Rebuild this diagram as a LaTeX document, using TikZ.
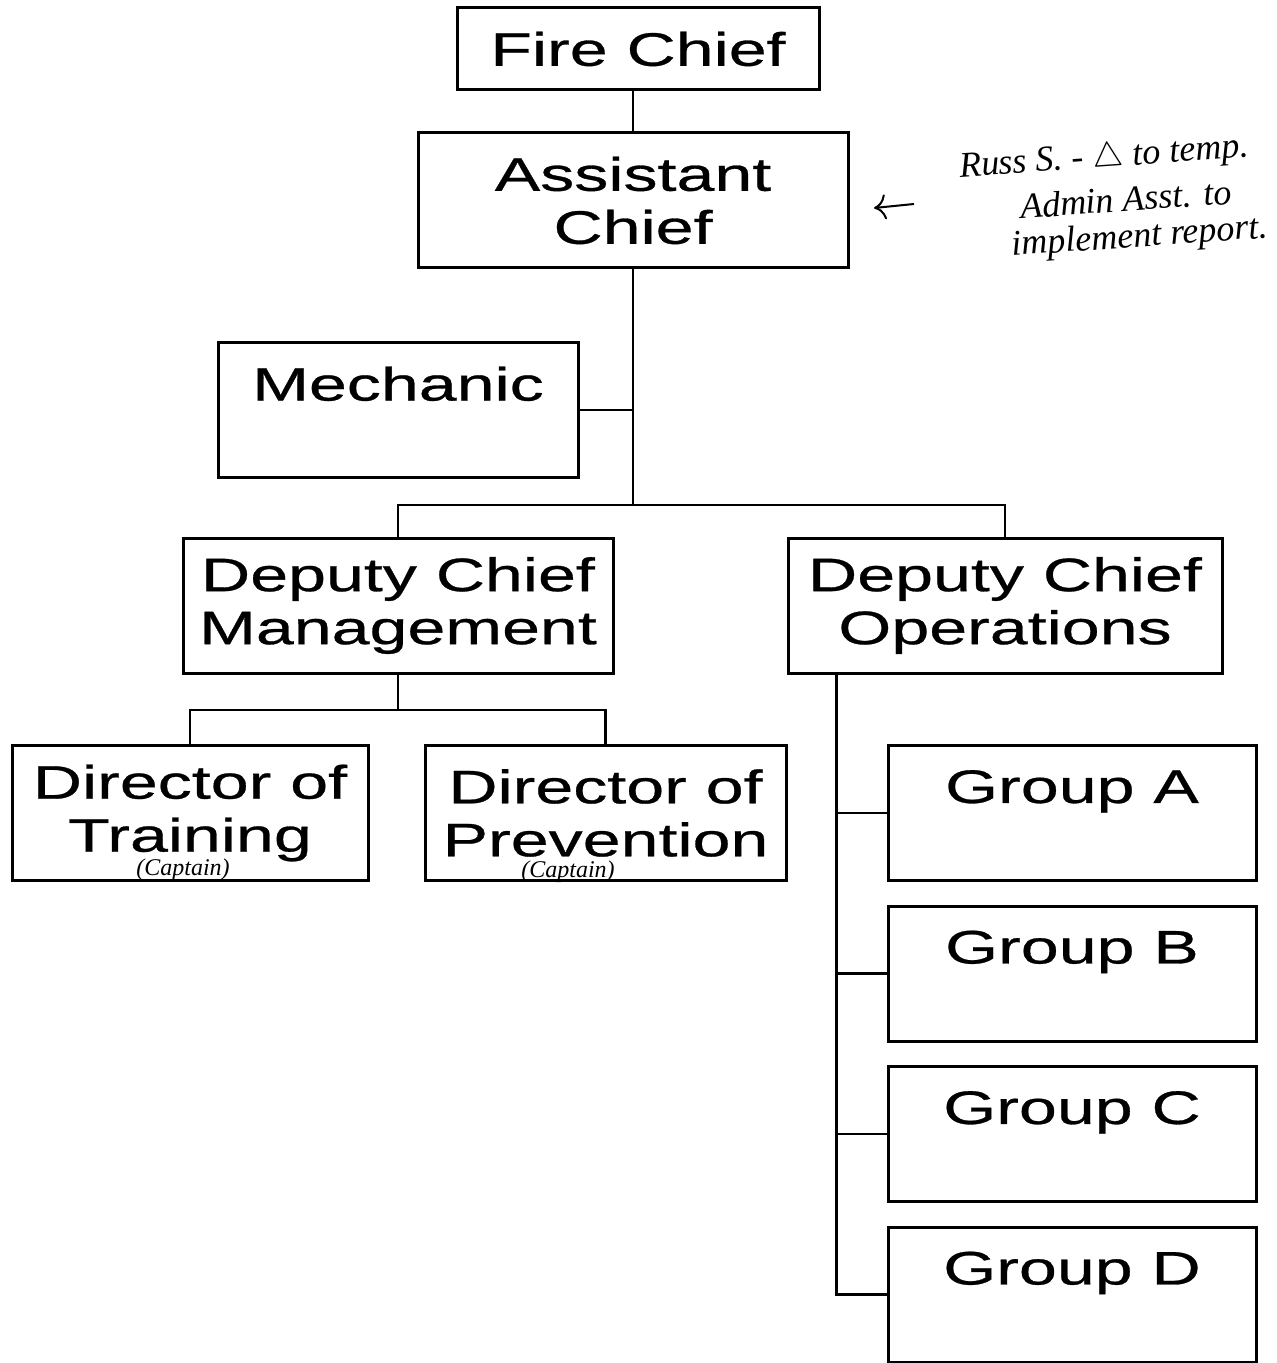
\documentclass[tikz,border=0pt]{standalone}
\usepackage{fontspec}
\setmainfont{Liberation Sans}
\newfontfamily\postfont{Liberation Sans}[FakeStretch=1.45,FakeBold=0.6]
\newfontfamily\notefont{Liberation Serif}
\usepackage{tikz}
\usetikzlibrary{arrows.meta}

\begin{document}
\begin{tikzpicture} [x=0.5pt,y=-0.5pt,
  post/.style= {draw,line width=1.5pt,inner sep=0,minimum height=67.5pt,align=center,font=\postfont\fontsize{23.5}{26.5}\selectfont},
  link/.style= {line width=1.2pt},
  scrawl/.style= {font=\notefont\itshape\fontsize{18}{19}\selectfont,inner sep=0,rotate=4},
  captain/.style= {font=\notefont\itshape\fontsize{12}{12}\selectfont,inner sep=0}]
\useasboundingbox (0,0) rectangle (1277,1363);
\node[post,minimum width=181pt,minimum height=41pt] (fire) at (638,49) {Fire Chief};
\node[post,minimum width=215pt] (asst) at (633,200.5) {Assistant\\Chief};
\node[post,minimum width=180pt] (mech) at (398,410) {Mechanic\\[-8pt] \strut};
\node[post,minimum width=215pt] (dcm) at (398,605.5) {Deputy Chief\\Management};
\node[post,minimum width=217pt] (dco) at (1005,605.5) {Deputy Chief\\Operations};
\node[post,minimum width=178pt] (dtr) at (190,813) {Director of\\Training};
\node[post,minimum width=180.5pt] (dpr) at (605.5,813) {Director of\\Prevention};
\foreach \g [count=\i from 0] in {A,B,C,D}{%
  \node[post,minimum width=184pt] (grp\g) at ({1072},{813+160.5*\i}) {Group \g\\[-8pt] \strut};}
\coordinate (hub) at (633,505);
\coordinate (dhub) at (398,710);
\coordinate (spine) at ([xshift=25pt]dco.south west);
\draw[link] (asst.north) -- (asst.north |- fire.south);
\draw[link] (asst) -- (hub);
\draw[link] (mech.east) -- (mech.east -| hub);
\draw[link] (dcm.north) |- (hub) -| (dco.north);
\draw[link] (dcm) -- (dhub);
\draw[link] (dtr.north) |- (dhub) -| (dpr.north);
\draw[link] (spine) |- (grpD.west);
\foreach \g in {A,B,C}{%
  \draw[link] (grp\g.west) -- (grp\g.west -| spine);}
\node[scrawl] (memo1) at (1104,159) {Russ S. - $\triangle$ to temp.};
\node[scrawl] (memo2) at (1126,199) {Admin Asst. to};
\node[scrawl] (memo3) at (1140,238) {implement report.};
\coordinate (pointA) at (914,204);
\coordinate (pointB) at (874,208);
\draw[line width=1pt,-{To[length=6pt]}] (pointA) -- (pointB);
\node[captain] (cap1) at (183,870) {(Captain)};
\node[captain] (cap2) at (568,872) {(Captain)};
\end{tikzpicture}
\end{document}
